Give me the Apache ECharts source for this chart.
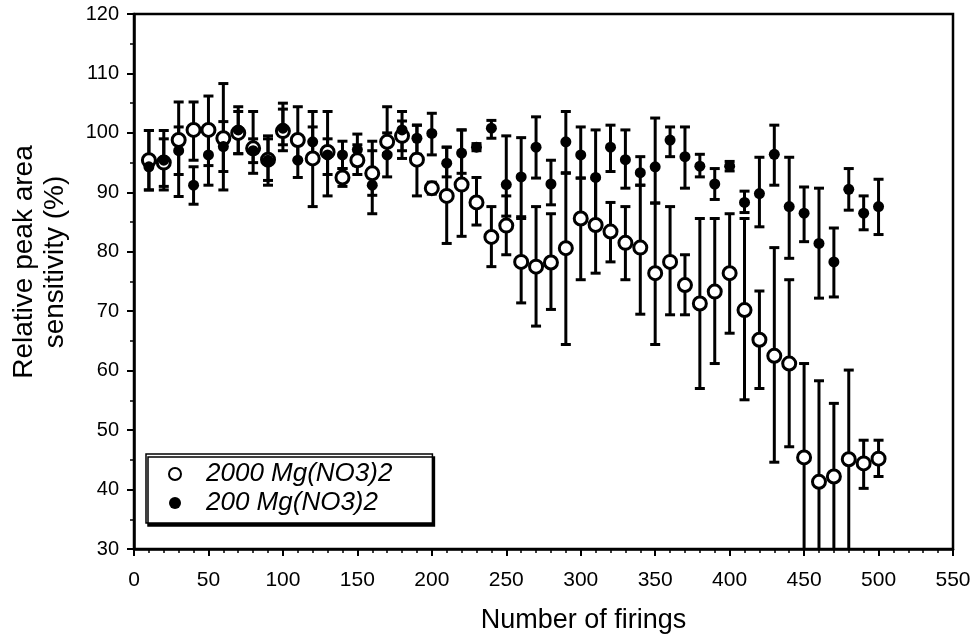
<!DOCTYPE html>
<html><head><meta charset="utf-8">
<script src="https://cdn.jsdelivr.net/npm/echarts@6/dist/echarts.min.js"></script>
<style>html,body{margin:0;padding:0;background:#fff}#c{width:977px;height:635px}</style>
</head><body><div id="c"></div>
<script>
const firings = [10,20,30,40,50,60,70,80,90,100,110,120,130,140,150,160,170,180,190,200,210,220,230,240,250,260,270,280,290,300,310,320,330,340,350,360,370,380,390,400,410,420,430,440,450,460,470,480,490,500];

const s2000Mean = [95.4,95.0,98.8,100.5,100.5,99.1,100.0,97.4,95.5,100.3,98.8,95.7,96.8,92.5,95.4,93.2,98.5,99.5,95.5,90.7,89.4,91.3,88.3,82.5,84.4,78.3,77.5,78.2,80.6,85.6,84.5,83.4,81.5,80.7,76.4,78.3,74.4,71.3,73.3,76.4,70.2,65.2,62.5,61.2,45.4,41.3,42.2,45.1,44.4,45.2];
const s2000Low  = [90.4,91.0,89.3,95.4,94.5,90.4,96.5,93.2,92.0,97.0,95.4,87.6,89.4,91.0,93.0,89.5,96.5,97.0,89.4,89.7,81.4,82.6,84.5,77.5,79.5,71.4,67.5,70.3,64.4,75.3,76.4,78.3,75.3,69.5,64.4,69.4,69.4,57.0,61.2,66.3,55.1,57.0,44.6,47.2,25.0,24.0,26.0,27.0,40.2,42.2];
const s2000High = [100.4,99.0,105.2,105.2,106.2,108.3,103.6,103.6,99.0,104.0,104.4,103.6,103.6,94.0,98.0,97.0,104.4,102.0,101.3,91.7,97.6,100.5,92.5,87.6,89.4,85.6,87.6,86.4,93.2,92.4,92.4,88.3,87.6,91.2,88.2,87.6,79.5,85.6,85.6,86.4,85.6,73.4,80.7,75.3,61.2,58.3,54.5,60.1,48.3,48.3];

const s200Mean = [94.3,95.4,97.0,91.2,96.3,97.7,100.5,97.0,95.4,100.8,95.4,98.5,96.3,96.3,97.2,91.2,96.3,100.5,99.1,99.9,94.9,96.6,97.6,100.8,91.3,92.6,97.6,91.4,98.5,96.3,92.5,97.6,95.5,93.3,94.3,98.8,96.0,94.4,91.4,94.4,88.3,89.8,96.4,87.6,86.5,81.4,78.3,90.5,86.5,87.6];
const s200Low  = [90.4,90.4,93.0,88.0,91.2,93.5,96.5,95.0,91.2,98.0,92.5,96.0,93.0,94.0,94.5,86.4,92.6,95.7,96.4,96.3,92.6,93.2,97.0,99.1,86.0,85.9,92.4,87.9,93.3,92.4,85.0,93.5,90.7,91.2,88.2,96.0,90.7,92.6,88.8,93.6,86.6,84.2,91.2,78.9,81.7,72.2,72.4,87.0,83.7,82.9];
const s200High = [100.4,100.4,101.0,94.3,101.0,101.9,104.4,99.0,99.5,105.0,98.0,101.0,99.0,98.6,99.8,98.6,100.0,103.6,101.3,103.3,97.6,100.5,98.2,102.1,99.5,99.2,102.7,95.4,103.6,101.0,100.5,101.3,100.5,96.0,102.5,101.0,101.0,96.4,94.0,95.2,90.2,95.9,101.3,95.9,90.9,90.7,84.0,94.0,89.4,92.2];

const seriesNames = ['2000 Mg(NO3)2', '200 Mg(NO3)2'];
const FONT = '"Liberation Sans", Arial, Helvetica, sans-serif';

function errData(lo, hi) { return firings.map((x, i) => [x, lo[i], hi[i]]); }
function pts(mean) { return firings.map((x, i) => [x, mean[i]]); }

function errRender(params, api) {
  const x = api.value(0), l = api.value(1), h = api.value(2);
  const pl = api.coord([x, l]), ph = api.coord([x, h]);
  const cap = 5;
  const st = { stroke: '#000', lineWidth: 3 };
  return { type: 'group', children: [
    { type: 'line', shape: { x1: pl[0], y1: pl[1], x2: ph[0], y2: ph[1] }, style: st },
    { type: 'line', shape: { x1: pl[0] - cap, y1: pl[1], x2: pl[0] + cap, y2: pl[1] }, style: st },
    { type: 'line', shape: { x1: ph[0] - cap, y1: ph[1], x2: ph[0] + cap, y2: ph[1] }, style: st }
  ]};
}

const chart = echarts.init(document.getElementById('c'));
chart.setOption({
  animation: false,
  backgroundColor: '#fff',
  textStyle: { fontFamily: FONT, color: '#000' },
  grid: { left: 134, right: 24, top: 14, bottom: 86, outerBoundsMode: 'none', containLabel: false,
          show: true, borderColor: '#000', borderWidth: 2.5, backgroundColor: 'transparent' },
  xAxis: {
    type: 'value', min: 0, max: 550, interval: 50,
    axisLine: { lineStyle: { color: '#000', width: 2.5 } },
    axisTick: { inside: false, length: 7, lineStyle: { color: '#000', width: 2 } },
    minorTick: { show: true, splitNumber: 5, length: 4, lineStyle: { color: '#000', width: 1.5 } },
    splitLine: { show: false },
    axisLabel: { fontSize: 21, color: '#000', margin: 21, fontFamily: FONT },
    name: 'Number of firings', nameLocation: 'middle', nameGap: 58,
    nameTextStyle: { fontSize: 27, color: '#000', fontFamily: FONT, padding: [0, 0, 0, 80] }
  },
  yAxis: {
    type: 'value', min: 30, max: 120, interval: 10,
    axisLine: { lineStyle: { color: '#000', width: 2.5 } },
    axisTick: { inside: false, length: 7, lineStyle: { color: '#000', width: 2 } },
    minorTick: { show: true, splitNumber: 2, length: 4, lineStyle: { color: '#000', width: 1.5 } },
    splitLine: { show: false },
    axisLabel: { fontSize: 20, color: '#000', margin: 15, fontFamily: FONT }
  },
  graphic: [{
    type: 'text',
    rotation: Math.PI / 2,
    x: 40, y: 262,
    style: {
      text: 'Relative peak area\nsensitivity (%)',
      font: '28px ' + FONT, fill: '#000', align: 'center', verticalAlign: 'middle', lineHeight: 31
    }
  }],
  legend: {
    data: seriesNames,
    orient: 'vertical', left: 146, top: 454,
    padding: [7, 40, 7, 22],
    itemGap: 3, itemWidth: 12, itemHeight: 12,
    backgroundColor: '#fff', borderColor: '#000', borderWidth: 1.5,
    shadowColor: '#000', shadowBlur: 0, shadowOffsetX: 2, shadowOffsetY: 3,
    textStyle: { fontSize: 26, fontStyle: 'italic', color: '#000', fontFamily: FONT, padding: [0, 0, 0, 20] }
  },
  series: [
    { type: 'custom', name: 'err2000', renderItem: errRender, data: errData(s2000Low, s2000High), encode: { x: 0, y: [1, 2] }, clip: true, z: 2 },
    { type: 'custom', name: 'err200', renderItem: errRender, data: errData(s200Low, s200High), encode: { x: 0, y: [1, 2] }, clip: true, z: 2 },
    { type: 'scatter', name: seriesNames[0], data: pts(s2000Mean), symbol: 'circle', symbolSize: 13,
      itemStyle: { color: '#fff', borderColor: '#000', borderWidth: 3, opacity: 1 }, z: 3 },
    { type: 'scatter', name: seriesNames[1], data: pts(s200Mean), symbol: 'circle', symbolSize: 11,
      itemStyle: { color: '#000', borderColor: '#000', borderWidth: 0, opacity: 1 }, z: 4 }
  ]
});
</script>
</body></html>
